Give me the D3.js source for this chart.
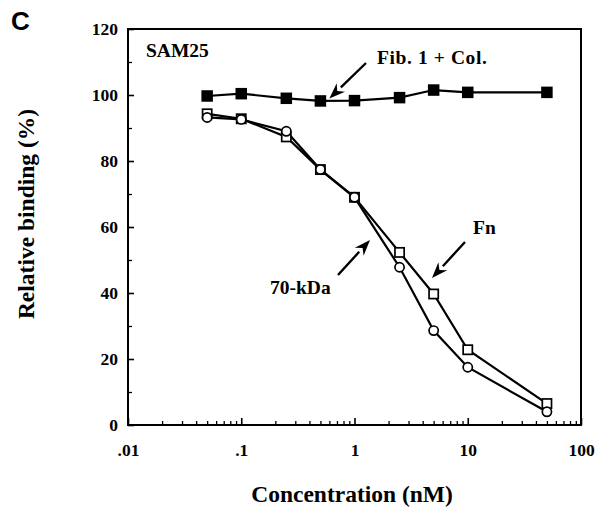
<!DOCTYPE html>
<html>
<head>
<meta charset="utf-8">
<script src="https://cdn.jsdelivr.net/npm/d3@7"></script>
<style>
  body { margin: 0; background: #fff; }
  svg text { font-family: "Liberation Serif", "Times New Roman", serif; font-weight: bold; fill: #000; }
</style>
</head>
<body>
<svg id="chart" width="597" height="512"></svg>
<script>
// concentrations (nM)
const concentrations = [0.05, 0.1, 0.25, 0.5, 1, 2.5, 5, 10, 50];
// relative binding (%)
const fibCol = [99.7, 100.4, 99.0, 98.2, 98.3, 99.2, 101.5, 100.8, 100.8];
const fn = [94.3, 92.8, 87.3, 77.4, 69.0, 52.3, 39.7, 22.8, 6.5];
const kda70 = [93.2, 92.6, 89.0, 77.4, 69.0, 47.8, 28.6, 17.5, 4.0];

const xTickValues = [0.01, 0.1, 1, 10, 100];
const xTickLabels = [".01", ".1", "1", "10", "100"];
const yTickValues = [0, 20, 40, 60, 80, 100, 120];
const yMinorValues = [10, 30, 50, 70, 90, 110];

const svg = d3.select("#chart");
const plotLeft = 128, plotRight = 581, plotTop = 29, plotBottom = 425;

const x = d3.scaleLog().domain([0.01, 100]).range([plotLeft, plotRight]);
const y = d3.scaleLinear().domain([0, 120]).range([plotBottom, plotTop]);

// frame
svg.append("rect")
    .attr("x", plotLeft).attr("y", plotTop)
    .attr("width", plotRight - plotLeft).attr("height", plotBottom - plotTop)
    .attr("fill", "none").attr("stroke", "#000").attr("stroke-width", 2);

// x axis: inward ticks, minor ticks on each decade
const minorX = [];
for (let e = -2; e < 2; e++) {
    for (let m = 2; m <= 9; m++) minorX.push(m * Math.pow(10, e));
}
const xAxis = svg.append("g").attr("transform", `translate(0,${plotBottom})`)
    .call(d3.axisBottom(x).tickValues(xTickValues)
        .tickFormat((d, i) => xTickLabels[i]).tickSizeInner(-7).tickSizeOuter(0).tickPadding(18.5));
xAxis.select(".domain").remove();
xAxis.selectAll("line").attr("stroke-width", 1.6);
xAxis.selectAll("text").attr("font-size", 17.5).attr("font-family", "Liberation Serif").attr("font-weight", "bold");

const xMinor = svg.append("g").attr("transform", `translate(0,${plotBottom})`)
    .call(d3.axisBottom(x).tickValues(minorX).tickFormat("").tickSizeInner(-4).tickSizeOuter(0));
xMinor.select(".domain").remove();
xMinor.selectAll("line").attr("stroke-width", 1.3);

// y axis
const yAxis = svg.append("g").attr("transform", `translate(${plotLeft},0)`)
    .call(d3.axisLeft(y).tickValues(yTickValues).tickSizeInner(-6).tickSizeOuter(0).tickPadding(10));
yAxis.select(".domain").remove();
yAxis.selectAll("line").attr("stroke-width", 1.6);
yAxis.selectAll("text").attr("font-size", 17.5).attr("font-family", "Liberation Serif").attr("font-weight", "bold");

const yMinor = svg.append("g").attr("transform", `translate(${plotLeft},0)`)
    .call(d3.axisLeft(y).tickValues(yMinorValues).tickFormat("").tickSizeInner(-4).tickSizeOuter(0));
yMinor.select(".domain").remove();
yMinor.selectAll("line").attr("stroke-width", 1.3);

// axis titles
svg.append("text")
    .attr("x", 352).attr("y", 502)
    .attr("text-anchor", "middle").attr("font-size", 23.5)
    .text("Concentration (nM)");

svg.append("text")
    .attr("transform", `translate(34,214) rotate(-90)`)
    .attr("text-anchor", "middle").attr("font-size", 23.5)
    .text("Relative binding (%)");

// panel letter
svg.append("text")
    .attr("x", 11).attr("y", 30)
    .style("font-family", "'Liberation Sans', Arial, sans-serif")
    .attr("font-size", 26)
    .text("C");

// lines
const line = vals => d3.line().x((d, i) => x(concentrations[i])).y(d => y(d))(vals);

[fn, kda70, fibCol].forEach(vals => {
    svg.append("path")
        .attr("d", line(vals))
        .attr("fill", "none").attr("stroke", "#000").attr("stroke-width", 2.2);
});

// markers
const sq = 11.5;
svg.append("g").selectAll("rect")
    .data(fibCol).join("rect")
    .attr("x", (d, i) => x(concentrations[i]) - sq / 2)
    .attr("y", d => y(d) - sq / 2)
    .attr("width", sq).attr("height", sq)
    .attr("fill", "#000");

svg.append("g").selectAll("rect")
    .data(fn).join("rect")
    .attr("x", (d, i) => x(concentrations[i]) - 4.6)
    .attr("y", d => y(d) - 4.6)
    .attr("width", 9.2).attr("height", 9.2)
    .attr("fill", "#fff").attr("stroke", "#000").attr("stroke-width", 1.7);

svg.append("g").selectAll("circle")
    .data(kda70).join("circle")
    .attr("cx", (d, i) => x(concentrations[i]))
    .attr("cy", d => y(d))
    .attr("r", 4.6)
    .attr("fill", "#fff").attr("stroke", "#000").attr("stroke-width", 1.7);

// annotations
svg.append("text").attr("x", 146).attr("y", 57).attr("font-size", 19.5).text("SAM25");
svg.append("text").attr("x", 377).attr("y", 64).attr("font-size", 19.5)
    .attr("letter-spacing", 0.6).text("Fib. 1 + Col.");
svg.append("text").attr("x", 473).attr("y", 234).attr("font-size", 19.5).text("Fn");
svg.append("text").attr("x", 270).attr("y", 294).attr("font-size", 19.5).text("70-kDa");

const arrow = (x1, y1, x2, y2) => {
    const a = Math.atan2(y2 - y1, x2 - x1);
    const len = 16, w = 6;
    const bx = x2 - len * Math.cos(a), by = y2 - len * Math.sin(a);
    svg.append("line")
        .attr("x1", x1).attr("y1", y1).attr("x2", bx).attr("y2", by)
        .attr("stroke", "#000").attr("stroke-width", 2.4);
    const px = -Math.sin(a) * w, py = Math.cos(a) * w;
    svg.append("path")
        .attr("d", `M${x2},${y2}L${bx + px},${by + py}L${x2 - (len - 5) * Math.cos(a)},${y2 - (len - 5) * Math.sin(a)}L${bx - px},${by - py}Z`)
        .attr("fill", "#000");
};
arrow(366, 63, x(0.6), y(fibCol[4]) - 2);
arrow(465, 242, 432, 278);
arrow(338, 275, 370, 240);
</script>
</body>
</html>
